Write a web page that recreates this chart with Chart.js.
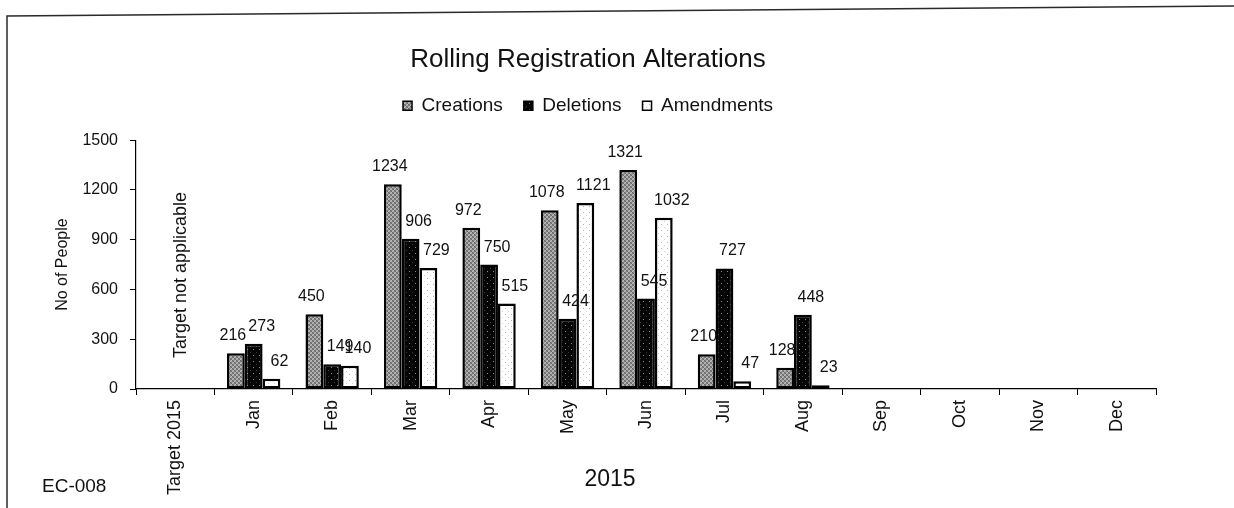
<!DOCTYPE html>
<html>
<head>
<meta charset="utf-8">
<title>Rolling Registration Alterations</title>
<script src="https://cdn.jsdelivr.net/npm/chart.js@4.4.1/dist/chart.umd.min.js"></script>
<style>
  html, body { margin: 0; padding: 0; background: #fff; }
  #wrap { width: 1234px; height: 508px; position: relative; }
</style>
</head>
<body>
<div id="wrap"><canvas id="c" width="1234" height="508"></canvas></div>
<script>
// Monthly registration alterations, 2015
const categories = ['Target 2015', 'Jan', 'Feb', 'Mar', 'Apr', 'May', 'Jun', 'Jul', 'Aug', 'Sep', 'Oct', 'Nov', 'Dec'];
const creations  = [null, 216, 450, 1234, 972, 1078, 1321, 210, 128, null, null, null, null];
const deletions  = [null, 273, 149, 906, 750, 424, 545, 727, 448, null, null, null, null];
const amendments = [null, 62, 140, 729, 515, 1121, 1032, 47, 23, null, null, null, null];
const yTicks = [0, 300, 600, 900, 1200, 1500];

const FONT = '"Liberation Sans", Arial, Helvetica, sans-serif';
const INK = '#111';

const canvas = document.getElementById('c');
const mainCtx = canvas.getContext('2d');

// Small repeating textures for the bar fills
function texture(size, base, dots) {
  const t = document.createElement('canvas');
  t.width = size; t.height = size;
  const g = t.getContext('2d');
  g.fillStyle = base;
  g.fillRect(0, 0, size, size);
  dots.forEach(([x, y, col]) => { g.fillStyle = col; g.fillRect(x, y, 1, 1); });
  return mainCtx.createPattern(t, 'repeat');
}

const greyLevels = ['#666666', '#a2a2a2', '#828282', '#bdbdbd'];
const greyOrder = [[0, 2, 1, 3], [2, 0, 3, 1], [1, 3, 0, 2], [3, 1, 2, 0]];
const greyDots = [];
greyOrder.forEach((row, y) => row.forEach((lv, x) => greyDots.push([x, y, greyLevels[lv]])));

const fillCreations  = texture(4, '#858585', greyDots);
const fillDeletions  = texture(6, '#050505', [[1, 1, '#8c8c8c'], [4, 4, '#3a3a3a']]);
const fillAmendments = texture(6, '#ffffff', [[1, 2, '#b4b4b4'], [4, 5, '#d2d2d2']]);

// Value labels above each bar
const labelShift = [-3, 8, 8];
const valueLabels = {
  id: 'valueLabels',
  afterDatasetsDraw(chart) {
    const ctx = chart.ctx;
    ctx.save();
    ctx.font = '16px ' + FONT;
    ctx.fillStyle = INK;
    ctx.textAlign = 'center';
    ctx.textBaseline = 'alphabetic';
    chart.data.datasets.forEach((ds, di) => {
      const meta = chart.getDatasetMeta(di);
      meta.data.forEach((bar, i) => {
        const v = ds.data[i];
        if (v === null || v === undefined) return;
        ctx.fillText(String(v), bar.x + labelShift[di], bar.y - 13);
      });
    });
    ctx.restore();
  }
};

// Frame and free-standing notes
const notes = {
  id: 'notes',
  beforeDraw(chart) {
    const ctx = chart.ctx;
    ctx.save();
    ctx.strokeStyle = '#2a2a2a';
    ctx.lineWidth = 1.5;
    ctx.beginPath();
    ctx.moveTo(7, 508);
    ctx.lineTo(7, 16);
    ctx.lineTo(1234, 6);
    ctx.stroke();
    ctx.restore();
  },
  afterDraw(chart) {
    const ctx = chart.ctx;
    const xs = chart.scales.x;
    ctx.save();
    ctx.fillStyle = INK;
    ctx.textBaseline = 'middle';

    ctx.save();
    ctx.font = '18px ' + FONT;
    ctx.textAlign = 'center';
    ctx.translate(xs.getPixelForValue(0) + 6, 275);
    ctx.rotate(-Math.PI / 2);
    ctx.fillText('Target not applicable', 0, 0);
    ctx.restore();

    ctx.font = '23px ' + FONT;
    ctx.textAlign = 'center';
    ctx.fillText('2015', 610, 480);

    ctx.font = '19px ' + FONT;
    ctx.textAlign = 'left';
    ctx.fillText('EC-008', 42, 487);
    ctx.restore();
  }
};

const barStyle = { borderColor: '#000', borderWidth: 2.5, borderSkipped: false,
                   categoryPercentage: 0.68, barPercentage: 1.0 };

new Chart(canvas, {
  type: 'bar',
  data: {
    labels: categories,
    datasets: [
      Object.assign({ label: 'Creations',  data: creations,  backgroundColor: fillCreations },  barStyle),
      Object.assign({ label: 'Deletions',  data: deletions,  backgroundColor: fillDeletions },  barStyle),
      Object.assign({ label: 'Amendments', data: amendments, backgroundColor: fillAmendments }, barStyle)
    ]
  },
  options: {
    responsive: false,
    animation: false,
    devicePixelRatio: 1,
    layout: { padding: { left: 20, right: 78, top: 0, bottom: 0 } },
    plugins: {
      tooltip: { enabled: false },
      title: {
        display: true,
        text: 'Rolling Registration Alterations',
        color: INK,
        font: { family: FONT, size: 26, weight: 'normal', lineHeight: 1.2 },
        padding: { top: 44, bottom: 0 }
      },
      legend: {
        display: true,
        position: 'top',
        labels: {
          color: INK,
          font: { family: FONT, size: 19 },
          boxWidth: 9,
          boxHeight: 9,
          padding: 21,
          generateLabels(chart) {
            return Chart.defaults.plugins.legend.labels.generateLabels(chart)
              .map(item => Object.assign(item, { lineWidth: 1.5 }));
          }
        }
      },
      subtitle: {
        display: true,
        text: '',
        weight: 500,
        font: { size: 10, lineHeight: 1 },
        padding: { top: 5, bottom: 0 }
      }
    },
    scales: {
      x: {
        afterFit(scale) { scale.height = 119; },
        grid: { display: true, drawOnChartArea: false, drawTicks: true, tickLength: 6, color: '#000', lineWidth: 1 },
        border: { display: true, color: '#000', width: 1.2 },
        ticks: {
          color: INK,
          font: { family: FONT, size: 18 },
          minRotation: 90,
          maxRotation: 90,
          autoSkip: false,
          padding: 5
        }
      },
      y: {
        min: 0,
        max: 1500,
        afterFit(scale) { scale.width = 116; },
        afterBuildTicks(scale) { scale.ticks = yTicks.map(v => ({ value: v })); },
        grid: { display: true, drawOnChartArea: false, drawTicks: true, tickLength: 6, color: '#000', lineWidth: 1 },
        border: { display: true, color: '#000', width: 1.2 },
        ticks: {
          color: INK,
          font: { family: FONT, size: 16 },
          padding: 12,
          callback: (v) => String(v)
        },
        title: {
          display: true,
          text: 'No of People',
          color: INK,
          font: { family: FONT, size: 16 },
          padding: { top: 33, bottom: 0 }
        }
      }
    }
  },
  plugins: [valueLabels, notes]
});
</script>
</body>
</html>
